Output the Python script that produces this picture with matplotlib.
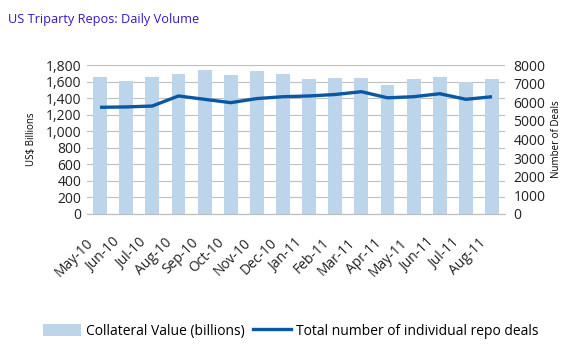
import numpy as np
import matplotlib.pyplot as plt
import matplotlib.transforms as mtransforms
from matplotlib.patches import Patch
from matplotlib.lines import Line2D

plt.rcParams["font.family"] = ["Open Sans", "DejaVu Sans"]

months = ["May-10", "Jun-10", "Jul-10", "Aug-10", "Sep-10", "Oct-10", "Nov-10", "Dec-10",
          "Jan-11", "Feb-11", "Mar-11", "Apr-11", "May-11", "Jun-11", "Jul-11", "Aug-11"]
collateral = [1660, 1610, 1660, 1690, 1740, 1680, 1730, 1690,
              1630, 1640, 1640, 1560, 1630, 1655, 1595, 1630]
deals = [5730, 5750, 5800, 6340, 6160, 5980, 6200, 6300,
         6340, 6420, 6570, 6240, 6300, 6460, 6160, 6300]

bar_color = "#BDD5EA"
line_color = "#0A57A4"
grid_color = "#BFBFBF"

fig = plt.figure(figsize=(5.76, 3.5), dpi=100)
ax = fig.add_axes([0.151, 0.389, 0.726, 0.425])
ax2 = ax.twinx()

x = np.arange(len(months))
ax.bar(x, collateral, width=0.53, color=bar_color, zorder=2)
ax2.plot(x, deals, color=line_color, lw=2.4, solid_joinstyle="round", solid_capstyle="butt")

ax.set_xlim(-0.5, len(months) - 0.5)
ax.set_ylim(0, 1800)
ax.set_yticks(range(0, 1801, 200))
ax.set_yticklabels([f"{v:,}" for v in range(0, 1801, 200)])
ax2.set_ylim(0, 8000)
ax2.set_yticks(range(0, 8001, 1000))

ax.grid(axis="y", color=grid_color, lw=0.8, zorder=0)
ax.set_axisbelow(True)
for a in (ax, ax2):
    for side in ("top", "left", "right"):
        a.spines[side].set_visible(False)
    a.spines["bottom"].set_color(grid_color)
    a.tick_params(length=0, labelsize=10, colors="#222222")
ax.tick_params(axis="y", pad=4)
ax2.tick_params(axis="y", pad=6)

ax.set_xticks(x)
ax.set_xticklabels(months, rotation=45, ha="right", rotation_mode="anchor", fontsize=10)
offset = mtransforms.ScaledTranslation(-10 / 72, -12 / 72, fig.dpi_scale_trans)
for lbl in ax.get_xticklabels():
    lbl.set_transform(lbl.get_transform() + offset)

ax.set_ylabel("US$ Billions", fontsize=7, labelpad=6)
ax2.set_ylabel("Number of Deals", fontsize=7, labelpad=4)

fig.text(0.014, 0.935, "US Triparty Repos: Daily Volume", fontsize=9.2, color="#3A16C8")

handles = [Patch(facecolor=bar_color, label="Collateral Value (billions)"),
           Line2D([], [], color=line_color, lw=2.4, label="Total number of individual repo deals")]
fig.legend(handles=handles, loc="center", bbox_to_anchor=(0.505, 0.053), ncol=2, frameon=False,
           fontsize=10, handlelength=2.7, handleheight=1.0, handletextpad=0.4, columnspacing=0.6)

fig.savefig("out.png", dpi=100)
